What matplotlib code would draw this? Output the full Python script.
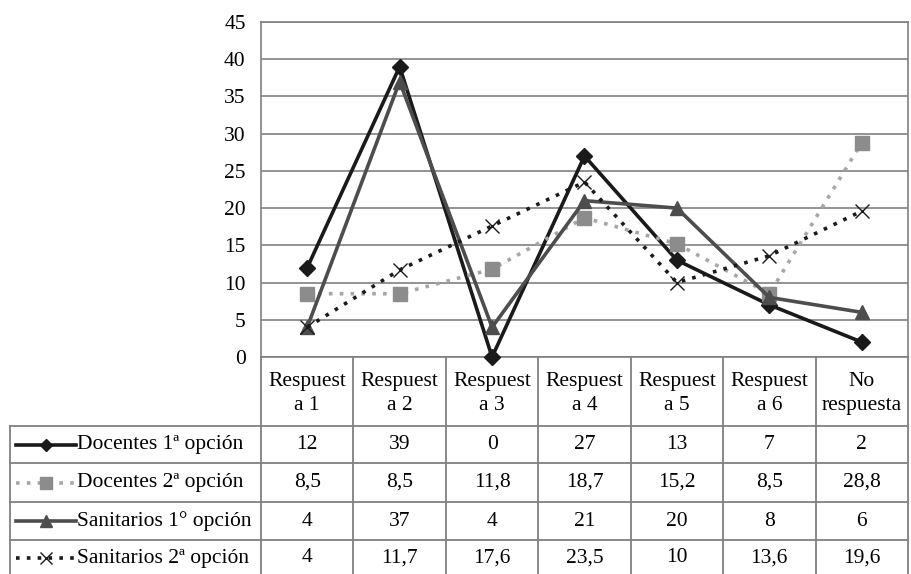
import matplotlib
matplotlib.use("Agg")
import matplotlib.pyplot as plt
import numpy as np

# datos de la figura
categorias = ["Respuest\na 1", "Respuest\na 2", "Respuest\na 3", "Respuest\na 4",
              "Respuest\na 5", "Respuest\na 6", "No\nrespuesta"]
series = ["Docentes 1ª opción", "Docentes 2ª opción",
          "Sanitarios 1° opción", "Sanitarios 2ª opción"]
docentes_1 = [12, 39, 0, 27, 13, 7, 2]
docentes_2 = [8.5, 8.5, 11.8, 18.7, 15.2, 8.5, 28.8]
sanitarios_1 = [4, 37, 4, 21, 20, 8, 6]
sanitarios_2 = [4, 11.7, 17.6, 23.5, 10, 13.6, 19.6]
y_ticks = [0, 5, 10, 15, 20, 25, 30, 35, 40, 45]

valores = [docentes_1, docentes_2, sanitarios_1, sanitarios_2]
estilos = [
    dict(color="#1a1a1a", linestyle="-", marker="D", ms=8, mfc="#1a1a1a", mec="#1a1a1a", lw=2.6),
    dict(color="#a6a6a6", linestyle=(0, (1, 2)), marker="s", ms=10, mfc="#8c8c8c", mec="#8c8c8c", lw=2.6),
    dict(color="#4d4d4d", linestyle="-", marker="^", ms=10, mfc="#4d4d4d", mec="#4d4d4d", lw=2.6),
    dict(color="#1a1a1a", linestyle=(0, (1, 2)), marker="x", ms=10, mfc="none", mec="#1a1a1a", mew=1.0, lw=2.6),
]

W, H = 912, 574
LEFT, RIGHT, TOP, BOTTOM = 261, 908, 22, 357
FILAS = [357, 426, 463, 502, 540, 577]
FONT = "Liberation Serif"
GRIS = "#808080"
FS = 15.5


def fmt(v):
    return f"{v:g}".replace(".", ",")


def main():
    plt.rcParams["font.family"] = [FONT, "DejaVu Serif"]
    fig = plt.figure(figsize=(W / 100, H / 100), dpi=100)

    # capa para la tabla en coordenadas de píxel
    tab = fig.add_axes([0, 0, 1, 1])
    tab.set_xlim(0, W)
    tab.set_ylim(H, 0)
    tab.axis("off")

    # gráfico de líneas
    ax = fig.add_axes([LEFT / W, 1 - BOTTOM / H, (RIGHT - LEFT) / W, (BOTTOM - TOP) / H])
    n = len(categorias)
    x = np.arange(n)
    for vals, st in zip(valores, estilos):
        ax.plot(x, vals, zorder=3, clip_on=False, **st)
    ax.set_xlim(-0.5, n - 0.5)
    ax.set_ylim(0, 45)
    ax.set_yticks(y_ticks)
    ax.set_yticklabels([str(t) for t in y_ticks], fontsize=FS)
    ax.tick_params(axis="y", length=0, pad=11)
    ax.set_xticks([])
    ax.yaxis.grid(True, color=GRIS, lw=1.2)
    ax.set_axisbelow(True)
    for s in ax.spines.values():
        s.set_color(GRIS)
        s.set_linewidth(1.2)

    # tabla de datos
    w = (RIGHT - LEFT) / n
    lc = dict(color=GRIS, lw=1.3)
    for yy in FILAS[1:-1]:
        tab.plot([10, RIGHT], [yy, yy], **lc)
    tab.plot([10, 10], [FILAS[1], H], **lc)
    for k in range(n + 1):
        xx = LEFT + k * w
        tab.plot([xx, xx], [BOTTOM, H], **lc)

    for i, cat in enumerate(categorias):
        cx = LEFT + (i + 0.5) * w
        tab.text(cx, (FILAS[0] + FILAS[1]) / 2 + 2, cat, ha="center", va="center",
                 fontsize=FS, linespacing=1.3)
        for j, vals in enumerate(valores):
            cy = (FILAS[j + 1] + FILAS[j + 2]) / 2
            if j == 3:
                cy = (FILAS[4] + H) / 2 + 1
            tab.text(cx, cy, fmt(vals[i]), ha="center", va="center", fontsize=FS)

    # leyenda dentro de la tabla
    for j, (nombre, st) in enumerate(zip(series, estilos)):
        cy = (FILAS[j + 1] + FILAS[j + 2]) / 2
        if j == 3:
            cy = (FILAS[4] + H) / 2 + 1
        key = dict(st)
        key["ms"] = st["ms"] * 0.8
        tab.plot([16, 76], [cy, cy], **{k: v for k, v in key.items() if k != "marker"},
                 marker="None")
        tab.plot([46], [cy], linestyle="None", marker=st["marker"], ms=key["ms"],
                 mfc=st["mfc"], mec=st["mec"], mew=st.get("mew", 1.0))
        tab.text(77, cy, nombre, ha="left", va="center", fontsize=FS)

    fig.savefig("out.png", dpi=100)


if __name__ == "__main__":
    main()
